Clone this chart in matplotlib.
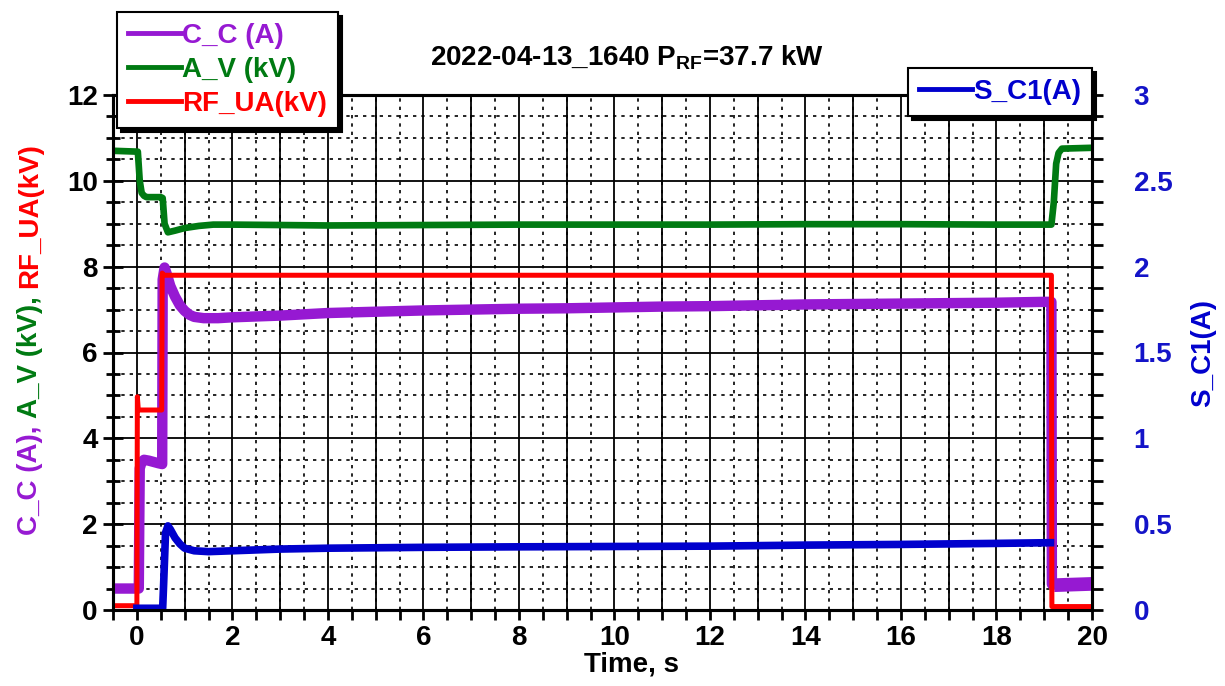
import matplotlib
matplotlib.use("Agg")
import matplotlib.pyplot as plt
from matplotlib.ticker import MultipleLocator, FuncFormatter
import numpy as np

# ---------------- data ----------------
cc_t = [-0.5, 0.04, 0.05, 0.06, 0.1, 0.15, 0.25, 0.35, 0.45, 0.53, 0.54, 0.58, 0.62, 0.7, 0.8,
        0.9, 1.0, 1.1, 1.2, 1.4, 1.7, 2, 3, 4, 5, 6, 7, 8, 9, 10, 11, 12, 13, 14, 15, 16, 17,
        18, 19, 19.15, 19.16, 19.5, 20]
cc_v = [0.5, 0.5, 2.0, 3.3, 3.45, 3.5, 3.48, 3.45, 3.42, 3.4, 7.7, 7.98, 7.85, 7.55, 7.3,
        7.1, 6.97, 6.88, 6.83, 6.8, 6.8, 6.82, 6.86, 6.92, 6.95, 6.98, 7.0, 7.02, 7.03, 7.05,
        7.07, 7.08, 7.1, 7.12, 7.13, 7.14, 7.15, 7.16, 7.18, 7.18, 0.6, 0.6, 0.62]
cc_tail_t = [19.2, 20]
cc_tail_lo = [0.43, 0.46]
cc_tail_hi = [0.75, 0.78]

av_t = [-0.5, 0.02, 0.06, 0.1, 0.15, 0.2, 0.5, 0.54, 0.58, 0.65, 0.8, 1.0, 1.3, 1.6, 2, 4, 6,
        8, 10, 12, 14, 16, 18, 19.15, 19.2, 19.25, 19.3, 19.37, 20]
av_v = [10.7, 10.68, 10.0, 9.72, 9.65, 9.62, 9.62, 9.6, 9.0, 8.8, 8.84, 8.9, 8.95, 8.98, 8.98,
        8.96, 8.97, 8.98, 8.98, 8.98, 8.99, 8.99, 8.98, 8.98, 9.5, 10.4, 10.65, 10.75, 10.77]

rf_t = [-0.5, 0.0, 0.01, 0.03, 0.52, 0.53, 0.56, 19.15, 19.16, 20]
rf_v = [0.1, 0.1, 4.97, 4.66, 4.66, 7.85, 7.8, 7.8, 0.08, 0.08]

sc_t = [0.0, 0.54, 0.56, 0.58, 0.6, 0.65, 0.7, 0.8, 0.9, 1.0, 1.2, 1.5, 2, 3, 4, 6, 8, 10,
        12, 14, 16, 18, 19.1, 19.13]
sc_v = [0.01, 0.01, 0.15, 0.3, 0.45, 0.49, 0.47, 0.42, 0.385, 0.36, 0.345, 0.34, 0.345, 0.355,
        0.36, 0.365, 0.368, 0.37, 0.372, 0.378, 0.382, 0.388, 0.392, 0.392]

title_main = "2022-04-13_1640 P"
title_sub = "RF"
title_tail = "=37.7 kW"
label_parts = ["C_C (A), ", "A_V (kV), ", "RF_UA(kV)"]

# ---------------- style ----------------
PURPLE = "#9619D2"
GREEN = "#007A12"
RED = "#FF0000"
BLUE = "#0000CD"
plt.rcParams['font.family'] = ['Liberation Sans', 'DejaVu Sans']
plt.rcParams['font.weight'] = 'bold'
plt.rcParams['mathtext.fontset'] = 'custom'
plt.rcParams['mathtext.bf'] = 'Liberation Sans:bold'
plt.rcParams['mathtext.rm'] = 'Liberation Sans:bold'

W, H = 1225, 686
fig = plt.figure(figsize=(W / 100, H / 100), dpi=100)
L, R, B, T = 113, 1092, 610, 95
ax = fig.add_axes([L / W, 1 - B / H, (R - L) / W, (B - T) / H])
ax2 = ax.twinx()

l1, = ax.plot(cc_t, cc_v, color=PURPLE, lw=7.5, solid_joinstyle='round', zorder=3)
ax.fill_between(cc_tail_t, cc_tail_lo, cc_tail_hi, color=PURPLE, lw=0, zorder=3)
l2, = ax.plot(av_t, av_v, color=GREEN, lw=4.8, zorder=4)
l3, = ax.plot(rf_t, rf_v, color=RED, lw=3.6, zorder=5)
l4, = ax2.plot(sc_t, sc_v, color=BLUE, lw=5.5)

ax.set_xlim(-0.5, 20)
ax.set_ylim(0, 12)
ax2.set_ylim(0, 3)

ax.xaxis.set_major_locator(MultipleLocator(2))
ax.xaxis.set_minor_locator(MultipleLocator(0.5))
ax.yaxis.set_major_locator(MultipleLocator(2))
ax.yaxis.set_minor_locator(MultipleLocator(0.5))
ax2.yaxis.set_major_locator(MultipleLocator(0.5))
ax2.yaxis.set_minor_locator(MultipleLocator(0.125))

# grid: dotted every 0.5, solid on integers (x) and majors (y)
ax.grid(which='minor', color='black', linestyle=(0, (2, 3)), lw=1.2, zorder=0)
ax.vlines(np.arange(0, 21, 1), 0, 12, colors='black', lw=1.3, zorder=1)
ax.hlines(np.arange(2, 12, 2), -0.5, 20, colors='black', lw=1.3, zorder=1)
ax.set_axisbelow(True)

for a in (ax, ax2):
    for s in a.spines.values():
        s.set_linewidth(2.2)

ax.tick_params(axis='y', which='both', direction='inout', width=2, labelsize=20, pad=4)
ax.tick_params(axis='y', which='major', length=14)
ax.tick_params(axis='y', which='minor', length=10)
ax.tick_params(axis='x', which='both', direction='out', width=2, length=7, labelsize=20, pad=4)
ax2.tick_params(axis='y', which='both', direction='out', width=2, length=8, labelsize=20,
                pad=22, labelcolor='#1414C8')

fmt = FuncFormatter(lambda v, p: f"{v:g}")
ax.xaxis.set_major_formatter(fmt)
ax.yaxis.set_major_formatter(fmt)
ax2.yaxis.set_major_formatter(fmt)

fig.text(631 / W, 1 - 664 / H, "Time, s", ha='center', va='center', fontsize=20, fontweight='bold')
fig.text(1203 / W, 1 - 353 / H, "S_C1(A)", ha='center', va='center', rotation=90,
         fontsize=20, fontweight='bold', color=BLUE)

fig.text(627 / W, 1 - 58 / H,
         title_main + r"$_{\mathbf{" + title_sub + r"}}$" + title_tail,
         ha='center', va='center', fontsize=20, fontweight='bold')

shadow = {'ox': 3, 'oy': -3, 'color': 'black', 'alpha': 1}
common = dict(fontsize=20, frameon=True, fancybox=False, shadow=shadow, edgecolor='black',
              framealpha=1, borderpad=0.4, handlelength=1.9, handletextpad=0.05,
              borderaxespad=0, labelcolor='linecolor')
leg = fig.legend([l1, l2, l3], ["C_C (A)", "A_V (kV)", "RF_UA(kV)"], loc='upper left',
                 bbox_to_anchor=(117 / W, 1 - 12 / H), labelspacing=0.28, **common)
leg2 = fig.legend([l4], ["S_C1(A)"], loc='upper right',
                  bbox_to_anchor=(1092 / W, 1 - 68 / H), **common)
for lg in (leg, leg2):
    lg.get_frame().set_linewidth(1.5)
    for h in lg.get_lines():
        h.set_linewidth(3.5)

# multi-colour left label
fig.canvas.draw()
rend = fig.canvas.get_renderer()
y_px = H - 535
for txt, col in zip(label_parts, [PURPLE, GREEN, RED]):
    t = fig.text(30 / W, y_px / H, txt, rotation=90, color=col, ha='center', va='bottom',
                 fontsize=20, fontweight='bold')
    bb = t.get_window_extent(renderer=rend)
    y_px += bb.height

fig.savefig("out.png", dpi=100)
